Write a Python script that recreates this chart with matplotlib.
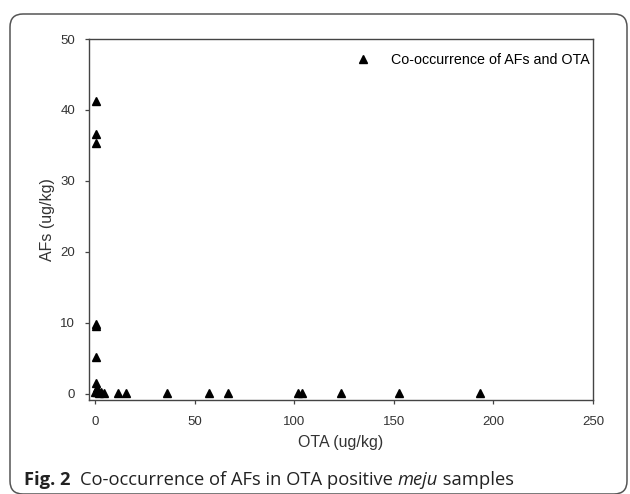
import matplotlib.pyplot as plt
from matplotlib.patches import FancyBboxPatch

# OTA vs AFs in meju samples (ug/kg)
ota = [0.3, 0.4, 0.5, 0.3, 0.6, 0.4, 0.4, 0.8, 0.2, 1.0, 2.0, 3.0, 4.5,
       11.5, 15.5, 36.0, 57.0, 67.0, 102.0, 104.0, 123.5, 152.5, 193.5]
afs = [41.3, 36.6, 35.4, 9.9, 9.6, 5.2, 1.5, 0.8, 0.3, 0.3, 0.2, 0.3, 0.2,
       0.2, 0.2, 0.2, 0.2, 0.2, 0.2, 0.2, 0.2, 0.2, 0.2]
x_ticks = [0, 50, 100, 150, 200, 250]
y_ticks = [0, 10, 20, 30, 40, 50]

plt.rcParams['font.family'] = ['Liberation Sans', 'DejaVu Sans']

fig = plt.figure(figsize=(6.3, 4.94), dpi=100)
W, H = 630, 494

# rounded frame around figure + caption (inches)
box = FancyBboxPatch((0.10, 0.0), 6.17, 4.80,
                     boxstyle='round,pad=0,rounding_size=0.13',
                     transform=fig.dpi_scale_trans, fc='none', ec='#555555',
                     lw=1.1, clip_on=False)
fig.patches.append(box)

ax = fig.add_axes([89 / W, 1 - 400 / H, 504 / W, 361 / H])
ax.plot(ota, afs, ls='none', marker='^', ms=6, color='black',
        label='Co-occurrence of AFs and OTA')

ax.set_xlim(-3, 250)
ax.set_ylim(-0.85, 50)
ax.set_xticks(x_ticks)
ax.set_yticks(y_ticks)
ax.tick_params(direction='out', length=3, width=0.9, color='#444444',
               labelsize=9.5, labelcolor='#333333')
ax.tick_params(axis='x', pad=8.5)
ax.tick_params(axis='y', pad=7)
for s in ax.spines.values():
    s.set_color('#444444')
    s.set_linewidth(1.0)

ax.set_xlabel('OTA (ug/kg)', fontsize=11.5, color='#333333', labelpad=5)
ax.set_ylabel('AFs (ug/kg)', fontsize=11.5, color='#333333', labelpad=4)

ax.legend(loc='upper right', bbox_to_anchor=(0.994, 0.961), frameon=False,
          fontsize=10.3, handlelength=2, handletextpad=1.0, borderpad=0,
          borderaxespad=0)

# caption, pieces chained left to right
cap = dict(fontsize=13.2, family='Open Sans', va='bottom', ha='left',
           color='#222222')
t1 = fig.text(24 / W, 1 - 489 / H, 'Fig. 2', fontweight='bold', **cap)
t2 = ax.annotate('Co-occurrence of AFs in OTA positive ', xy=(1, 0),
                 xycoords=t1, xytext=(7, 0), textcoords='offset points',
                 annotation_clip=False, **cap)
t3 = ax.annotate('meju', xy=(1, 0), xycoords=t2, annotation_clip=False,
                 style='italic', **cap)
ax.annotate(' samples', xy=(1, 0), xycoords=t3, annotation_clip=False, **cap)

fig.savefig('out.png', dpi=100)
